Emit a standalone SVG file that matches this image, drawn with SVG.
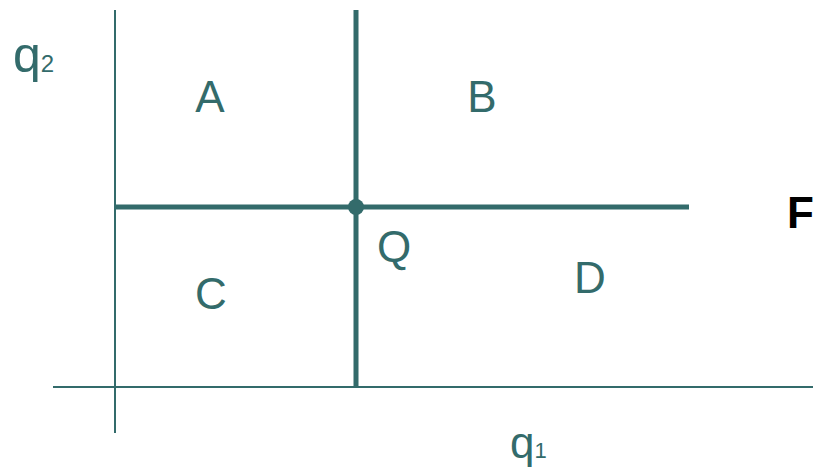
<svg xmlns="http://www.w3.org/2000/svg" width="813" height="473" viewBox="0 0 813 473">
<style>
.ax{stroke:#336b6b;stroke-width:2;fill:none}
.th{stroke:#336b6b;stroke-width:5;fill:none}
.lb{font-family:"Liberation Sans",Arial,sans-serif;fill:#336b6b}
</style>
<rect width="813" height="473" fill="#fff"/>
<g id="connectors">
<line class="ax" x1="115" y1="10" x2="115" y2="433"/>
<line class="ax" x1="53" y1="387" x2="813" y2="387"/>
<line class="th" x1="356" y1="10" x2="356" y2="387"/>
<line class="th" x1="115" y1="207" x2="689" y2="207"/>
</g>
<g id="Q"><circle cx="356" cy="207" r="8" fill="#336b6b"/><text class="lb" x="394" y="262" font-size="44" text-anchor="middle">Q</text></g>
<g id="A"><text class="lb" x="210" y="112" font-size="44" text-anchor="middle">A</text></g>
<g id="B"><text class="lb" x="482" y="112" font-size="44" text-anchor="middle">B</text></g>
<g id="C"><text class="lb" x="211" y="309" font-size="44" text-anchor="middle">C</text></g>
<g id="D"><text class="lb" x="590" y="293" font-size="44" text-anchor="middle">D</text></g>
<g id="q2"><text class="lb" x="13" y="72" font-size="50">q<tspan font-size="24">2</tspan></text></g>
<g id="q1"><text class="lb" x="510" y="458" font-size="44">q<tspan font-size="22">1</tspan></text></g>
<g id="F"><text x="787" y="228" font-size="44" font-weight="bold" font-family="'Liberation Sans',Arial,sans-serif" fill="#000">F</text></g>
</svg>
